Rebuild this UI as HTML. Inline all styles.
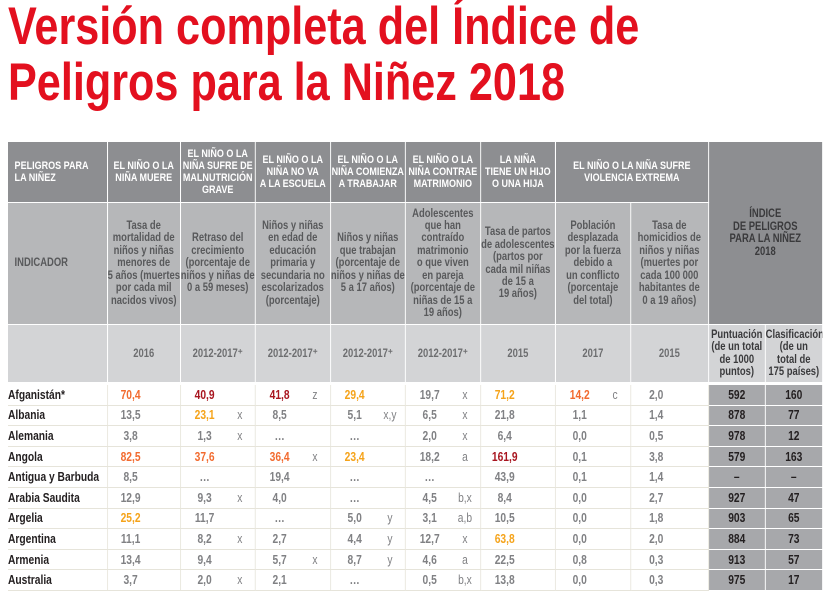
<!DOCTYPE html>
<html><head><meta charset="utf-8">
<style>
body{margin:0;width:827px;height:593px;overflow:hidden;background:#fff;font-family:"Liberation Sans",sans-serif;}
.title{position:absolute;left:8px;top:-1px;color:#e3101f;font-weight:bold;font-size:53px;line-height:56px;white-space:nowrap;transform:scaleX(0.815);transform-origin:0 0;}
.wrap{position:absolute;left:8px;top:142px;width:993px;transform:scaleX(0.82);transform-origin:0 0;}
table{border-collapse:collapse;table-layout:fixed;font-weight:bold;width:993px;}
td{padding:0;text-align:center;vertical-align:middle;font-size:11px;line-height:12px;overflow:hidden;white-space:nowrap;}
.h1 td{background:#8d8e91;color:#fff;height:60px;border-right:1px solid #fff;border-bottom:1px solid #fff;font-size:11px;}
.h2 td{background:#b6b7b9;color:#58595b;height:121px;border-right:1px solid #fff;border-bottom:1px solid #fff;font-size:11.5px;line-height:12.4px;}
.h3 td{background:#d3d4d6;color:#6d6e70;height:57px;border-right:1px solid #fff;border-bottom:3px solid #fff;font-size:11.5px;}
.h1 td.l,.h2 td.l{text-align:left;padding-left:8px;}
td.idx{background:#8d8e91;color:#3a3a3c;border-bottom:1px solid #fff;font-size:11.5px;line-height:12.5px;}
.h3 td.s{color:#3a3a3c;background:#d3d4d6;font-size:11.5px;line-height:12.5px;}
.d td{height:19.6px;border-bottom:1px solid #e6e4da;color:#808184;border-right:1px solid #e6e4da;font-size:12.5px;}
.d td.c{text-align:left;color:#231f20;}
.d td.sc{background:#a7a8ab;color:#231f20;border-right:1px solid #fff;border-bottom:1px solid #fff;}
.v{display:inline-block;width:54px;text-align:center;}
.f{display:inline-block;width:32px;text-align:center;font-weight:normal;}
.o{color:#f26b2f}.r{color:#a8151f}.y{color:#f5a31a}
</style></head><body>
<div class="title">Versión completa del Índice de<br>Peligros para la Niñez 2018</div>
<div class="wrap">
<table>
<colgroup><col style="width:121px"><col style="width:89px"><col style="width:91.5px"><col style="width:91.5px"><col style="width:91.5px"><col style="width:91.5px"><col style="width:91.5px"><col style="width:91.5px"><col style="width:95px"><col style="width:69.5px"><col style="width:69.5px"></colgroup>
<tr class="h1">
<td class="l">PELIGROS PARA<br>LA NIÑEZ</td>
<td>EL NIÑO O LA<br>NIÑA MUERE</td>
<td>EL NIÑO O LA<br>NIÑA SUFRE DE<br>MALNUTRICIÓN<br>GRAVE</td>
<td>EL NIÑO O LA<br>NIÑA NO VA<br>A LA ESCUELA</td>
<td>EL NIÑO O LA<br>NIÑA COMIENZA<br>A TRABAJAR</td>
<td>EL NIÑO O LA<br>NIÑA CONTRAE<br>MATRIMONIO</td>
<td>LA NIÑA<br>TIENE UN HIJO<br>O UNA HIJA</td>
<td colspan="2">EL NIÑO O LA NIÑA SUFRE<br>VIOLENCIA EXTREMA</td>
<td colspan="2" rowspan="2" class="idx">ÍNDICE<br>DE PELIGROS<br>PARA LA NIÑEZ<br>2018</td>
</tr>
<tr class="h2">
<td class="l">INDICADOR</td>
<td>Tasa de<br>mortalidad de<br>niños y niñas<br>menores de<br>5 años (muertes<br>por cada mil<br>nacidos vivos)</td>
<td>Retraso del<br>crecimiento<br>(porcentaje de<br>niños y niñas de<br>0 a 59 meses)</td>
<td>Niños y niñas<br>en edad de<br>educación<br>primaria y<br>secundaria no<br>escolarizados<br>(porcentaje)</td>
<td>Niños y niñas<br>que trabajan<br>(porcentaje de<br>niños y niñas de<br>5 a 17 años)</td>
<td>Adolescentes<br>que han<br>contraído<br>matrimonio<br>o que viven<br>en pareja<br>(porcentaje de<br>niñas de 15 a<br>19 años)</td>
<td>Tasa de partos<br>de adolescentes<br>(partos por<br>cada mil niñas<br>de 15 a<br>19 años)</td>
<td>Población<br>desplazada<br>por la fuerza<br>debido a<br>un conflicto<br>(porcentaje<br>del total)</td>
<td>Tasa de<br>homicidios de<br>niños y niñas<br>(muertes por<br>cada 100 000<br>habitantes de<br>0 a 19 años)</td>
</tr>
<tr class="h3">
<td></td><td>2016</td><td>2012-2017⁺</td><td>2012-2017⁺</td><td>2012-2017⁺</td><td>2012-2017⁺</td><td>2015</td><td>2017</td><td>2015</td>
<td class="s">Puntuación<br>(de un total<br>de 1000<br>puntos)</td><td class="s">Clasificación<br>(de un<br>total de<br>175 países)</td>
</tr>
<tbody id="body"></tbody>
</table>
</div>
<script>
const countries=["Afganistán*","Albania","Alemania","Angola","Antigua y Barbuda","Arabia Saudita","Argelia","Argentina","Armenia","Australia"];
const mortality=["70,4|o","13,5","3,8","82,5|o","8,5","12,9","25,2|y","11,1","13,4","3,7"];
const stunting=["40,9|r","23,1|y|x","1,3||x","37,6|o","…","9,3||x","11,7","8,2||x","9,4","2,0||x"];
const school=["41,8|r|z","8,5","…","36,4|o|x","19,4","4,0","…","2,7","5,7||x","2,1"];
const labour=["29,4|y","5,1||x,y","…","23,4|y","…","…","5,0||y","4,4||y","8,7||y","…"];
const marriage=["19,7||x","6,5||x","2,0||x","18,2||a","…","4,5||b,x","3,1||a,b","12,7||x","4,6||a","0,5||b,x"];
const births=["71,2|y","21,8","6,4","161,9|r","43,9","8,4","10,5","63,8|y","22,5","13,8"];
const displaced=["14,2|o|c","1,1","0,0","0,1","0,1","0,0","0,0","0,0","0,8","0,0"];
const homicide=["2,0","1,4","0,5","3,8","1,4","2,7","1,8","2,0","0,3","0,3"];
const scores=["592","878","978","579","–","927","903","884","913","975"];
const ranks=["160","77","12","163","–","47","65","73","57","17"];
const cols=[mortality,stunting,school,labour,marriage,births,displaced,homicide];
const names=["mortality","stunting","out-of-school","child-labour","child-marriage","adolescent-births","displaced","homicide"];
const tb=document.getElementById('body');
countries.forEach((c,i)=>{
  const tr=document.createElement('tr');tr.className='d';
  
  
  const tc=document.createElement('td');tc.className='c';tc.textContent=c;
  
  
  tr.appendChild(tc);
  cols.forEach((arr,j)=>{
    const p=arr[i].split('|');
    const td=document.createElement('td');
    
    
    td.innerHTML='<span class="v '+(p[1]||'')+'">'+p[0]+'</span><span class="f">'+(p[2]||'')+'</span>';
    tr.appendChild(td);
  });
  [scores,ranks].forEach((arr,j)=>{
    const td=document.createElement('td');td.className='sc';td.textContent=arr[i];
    
    
    tr.appendChild(td);
  });
  tb.appendChild(tr);
});
</script>
</body></html>
